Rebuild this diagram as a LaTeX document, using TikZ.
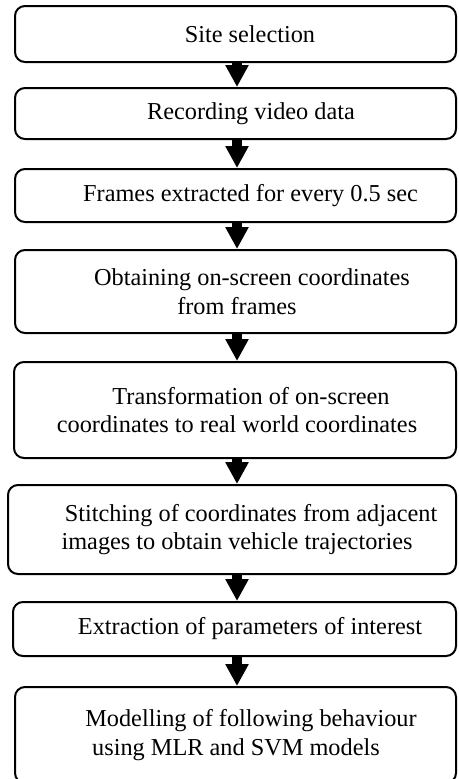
\documentclass[tikz,border=0pt]{standalone}
\usepackage{fontspec}
\setmainfont{Liberation Serif}
\usetikzlibrary{arrows.meta}
\tikzset{
  stepbox/.style={draw=black, line width=2pt, rounded corners=10pt, inner sep=0pt,
    align=center, font=\fontsize{24.3}{28.5}\selectfont},
  flow/.style={line width=10pt, -{Triangle[width=22pt,length=22pt]}},
}
\begin{document}
\begin{tikzpicture}[x=1pt,y=-1pt]
\useasboundingbox (0,0) rectangle (458,779);
\clip (0,0) rectangle (458,779);
\node[stepbox, minimum width=441pt, minimum height=56pt] (b1) at (235.5,34) {\hspace*{29pt}Site selection};
\node[stepbox, minimum width=441pt, minimum height=51pt] (b2) at (235.5,113.5) {\hspace*{31pt}Recording video data};
\node[stepbox, minimum width=441pt, minimum height=53pt] (b3) at (235.5,195.5) {\hspace*{30pt}Frames extracted for every 0.5 sec};
\node[stepbox, minimum width=441pt, minimum height=83pt] (b4) at (235.5,291.5) {\hspace*{33pt}Obtaining on-screen coordinates\\\hspace*{3pt}from frames};
\node[stepbox, minimum width=442pt, minimum height=96pt] (b5) at (235,410) {\hspace*{32pt}Transformation of on-screen\\\hspace*{4pt}coordinates to real world coordinates};
\node[stepbox, minimum width=448pt, minimum height=89pt] (b6) at (232,529.5) {\hspace*{38pt}Stitching of coordinates from adjacent\\\hspace*{10pt}images to obtain vehicle trajectories};
\node[stepbox, minimum width=443pt, minimum height=54pt] (b7) at (234.5,629) {\hspace*{31pt}Extraction of parameters of interest};
\node[stepbox, minimum width=441pt, minimum height=96pt] (b8) at (235.5,735) {\hspace*{31pt}Modelling of following behaviour\\\hspace*{1pt}using MLR and SVM models};
\foreach \a/\b in {b1/b2,b2/b3,b3/b4,b4/b5,b5/b6,b6/b7,b7/b8}
  \draw[flow] (\a.south -| 237,0) -- (\b.north -| 237,0);
\end{tikzpicture}
\end{document}
